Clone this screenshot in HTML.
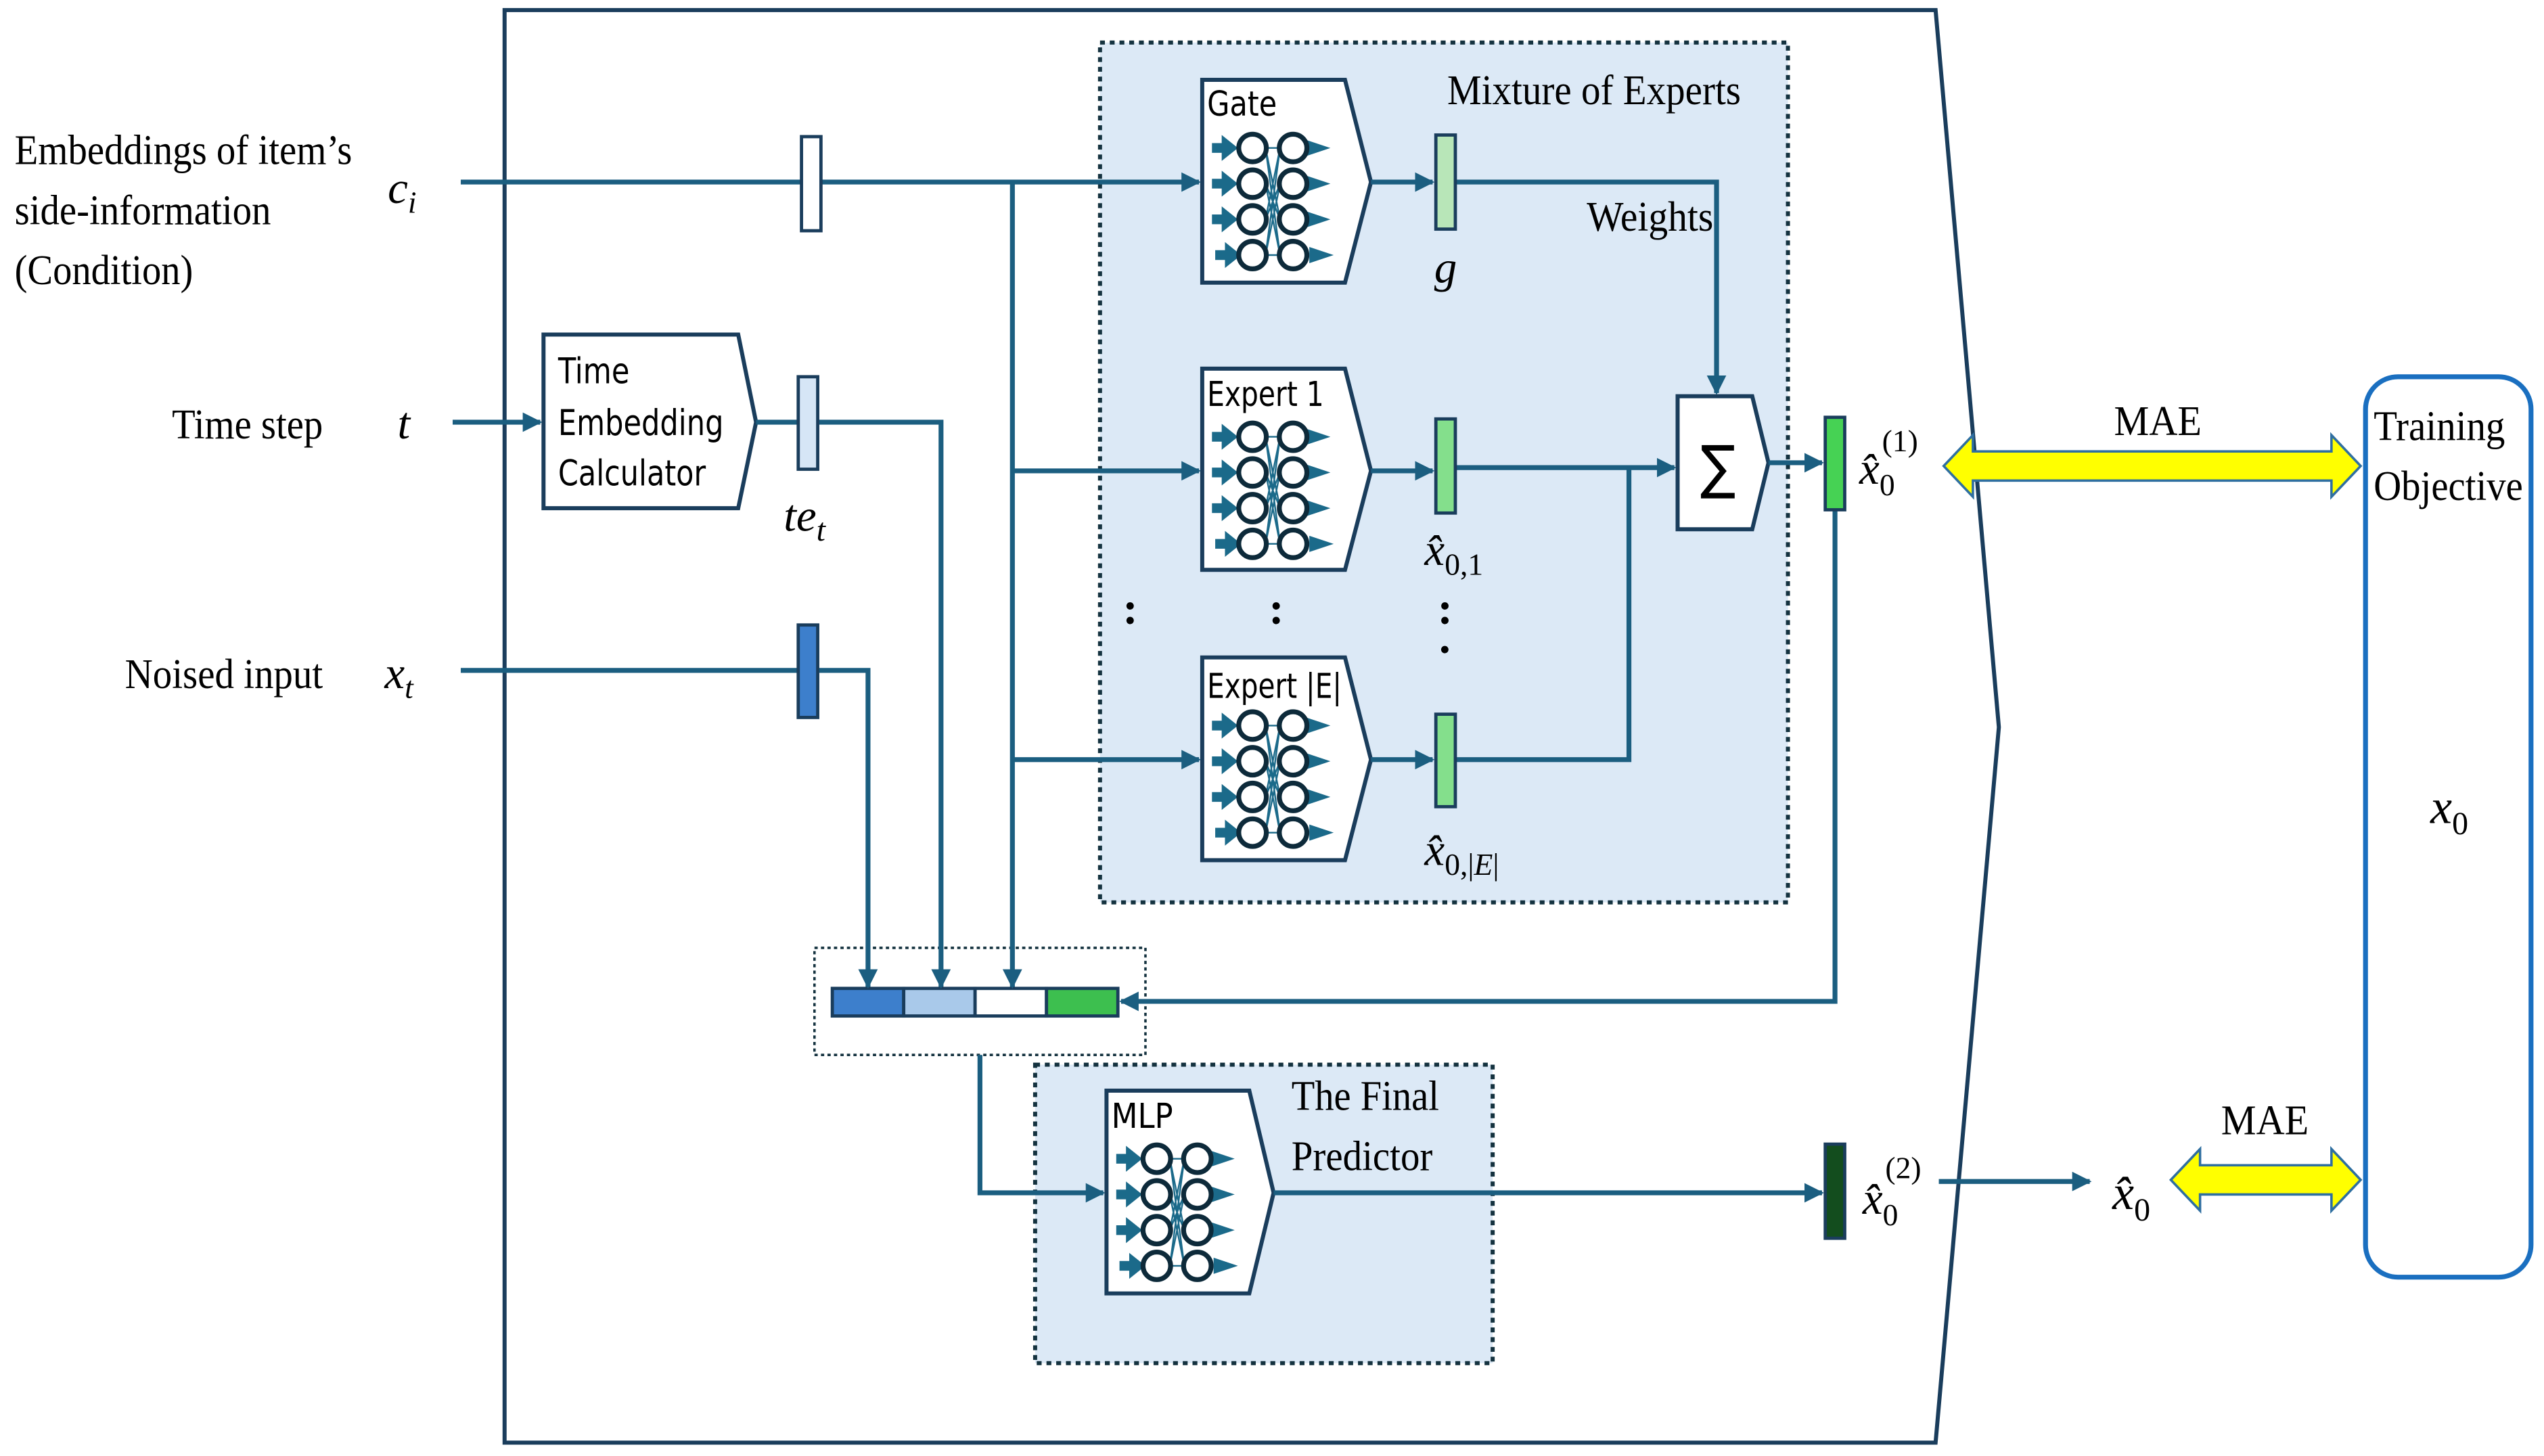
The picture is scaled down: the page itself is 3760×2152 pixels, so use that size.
<!DOCTYPE html>
<html><head><meta charset="utf-8"><style>
html,body{margin:0;padding:0;background:#fff}
svg{display:block}
.s{font-family:"Liberation Serif",serif;fill:#000}
.a{font-family:"DejaVu Sans Condensed","DejaVu Sans","Liberation Sans",sans-serif;fill:#000}
.m{font-family:"Liberation Serif",serif;font-style:italic;fill:#000}
</style></head><body>
<svg width="3760" height="2152" viewBox="0 0 1568 897" xmlns="http://www.w3.org/2000/svg">
<defs>
<marker id="ar" viewBox="0 0 10 10" refX="9" refY="5" markerWidth="4" markerHeight="4" orient="auto-start-reverse" markerUnits="strokeWidth"><path d="M0,0L10,5L0,10z" fill="#1b5e80"/></marker>
<g id="nn">
 <g stroke="#1b6a8a" stroke-width="1" fill="none">
  <path d="M39,42L48,108M39,108L48,42M39,64L48,86M39,86L48,64M39,42L48,86M39,108L48,64M39,64L48,108M39,86L48,42M39,42H48M39,108H48"/>
 </g>
 <g fill="#1b6a8a">
  <path d="M6,39h6v-5l10,8l-10,8v-5h-6z"/><path d="M6,61h6v-5l10,8l-10,8v-5h-6z"/><path d="M6,83h6v-5l10,8l-10,8v-5h-6z"/><path d="M8,105h6v-5l10,8l-10,8v-5h-6z"/>
  <path d="M64,37l15,5l-15,5z"/><path d="M64,59l15,5l-15,5z"/><path d="M64,81l15,5l-15,5z"/><path d="M66,103l15,5l-15,5z"/>
 </g>
 <g fill="none" stroke="#0d2a3a" stroke-width="3">
  <circle cx="31" cy="42" r="8.5"/><circle cx="56" cy="42" r="8.5"/>
  <circle cx="31" cy="64" r="8.5"/><circle cx="56" cy="64" r="8.5"/>
  <circle cx="31" cy="86" r="8.5"/><circle cx="56" cy="86" r="8.5"/>
  <circle cx="31" cy="108" r="8.5"/><circle cx="56" cy="108" r="8.5"/>
 </g>
</g>
</defs>

<!-- outer frame -->
<path d="M311,6H1193L1232,448L1193,889H311Z" fill="none" stroke="#1a3d5c" stroke-width="2.5"/>

<!-- MoE region -->
<rect x="678" y="26" width="424" height="530" fill="#dce9f6" stroke="#14323f" stroke-width="2.5" stroke-dasharray="3,3"/>
<text x="892" y="64" class="s" font-size="26" textLength="181" lengthAdjust="spacingAndGlyphs">Mixture of Experts</text>
<text x="978" y="142" class="s" font-size="26" textLength="78" lengthAdjust="spacingAndGlyphs">Weights</text>

<!-- final predictor region -->
<rect x="638" y="656" width="282" height="184" fill="#dce9f6" stroke="#14323f" stroke-width="2.5" stroke-dasharray="3,3"/>
<text x="796" y="684" class="s" font-size="26" textLength="91" lengthAdjust="spacingAndGlyphs">The Final</text>
<text x="796" y="721" class="s" font-size="26" textLength="87" lengthAdjust="spacingAndGlyphs">Predictor</text>

<!-- concat -->
<rect x="502" y="584" width="204" height="66" fill="#fff" stroke="#14323f" stroke-width="1.5" stroke-dasharray="2,2"/>
<g stroke="#1a3d5c" stroke-width="2">
 <rect x="513" y="609" width="44" height="17" fill="#3d7fcc"/>
 <rect x="557" y="609" width="44" height="17" fill="#a9c9ea"/>
 <rect x="601" y="609" width="44" height="17" fill="#fff"/>
 <rect x="645" y="609" width="44" height="17" fill="#3dbf4f"/>
</g>

<!-- boxes -->
<g fill="#fff" stroke="#1a3d5c" stroke-width="2.5">
 <path d="M741,49H829L845,112L829,174H741Z"/>
 <path d="M741,227H829L845,290L829,351H741Z"/>
 <path d="M741,405H829L845,468L829,530H741Z"/>
 <path d="M682,672H770L785,735L770,797H682Z"/>
 <path d="M335,206H455L466,260L455,313H335Z"/>
 <path d="M1034,244H1080L1090,285L1080,326H1034Z"/>
</g>
<use href="#nn" x="741" y="49"/>
<use href="#nn" x="741" y="227"/>
<use href="#nn" x="741" y="405"/>
<use href="#nn" x="682" y="672"/>
<text x="744" y="71" class="a" font-size="21" textLength="43" lengthAdjust="spacingAndGlyphs">Gate</text>
<text x="744" y="250" class="a" font-size="21" textLength="72" lengthAdjust="spacingAndGlyphs">Expert 1</text>
<text x="744" y="430" class="a" font-size="21" textLength="83" lengthAdjust="spacingAndGlyphs">Expert |E|</text>
<text x="685" y="695" class="a" font-size="21" textLength="38" lengthAdjust="spacingAndGlyphs">MLP</text>
<text x="344" y="236" class="a" font-size="22" textLength="44" lengthAdjust="spacingAndGlyphs">Time</text>
<text x="344" y="268" class="a" font-size="22" textLength="102" lengthAdjust="spacingAndGlyphs">Embedding</text>
<text x="344" y="299" class="a" font-size="22" textLength="91" lengthAdjust="spacingAndGlyphs">Calculator</text>
<text x="1048" y="300" class="a" font-size="36">∑</text>

<!-- connectors -->
<g fill="none" stroke="#1b5e80" stroke-width="3">
 <path d="M284,112H494"/>
 <path d="M506,112H739" marker-end="url(#ar)"/>
 <path d="M624,112V608" marker-end="url(#ar)"/>
 <path d="M624,290H739" marker-end="url(#ar)"/>
 <path d="M624,468H739" marker-end="url(#ar)"/>
 <path d="M845,112H883" marker-end="url(#ar)"/>
 <path d="M897,112H1058V242" marker-end="url(#ar)"/>
 <path d="M845,290H883" marker-end="url(#ar)"/>
 <path d="M897,288H1032" marker-end="url(#ar)"/>
 <path d="M845,468H883" marker-end="url(#ar)"/>
 <path d="M897,468H1004V288"/>
 <path d="M1090,285H1123" marker-end="url(#ar)"/>
 <path d="M1131,314V617H691" marker-end="url(#ar)"/>
 <path d="M279,260H333" marker-end="url(#ar)"/>
 <path d="M466,260H492"/>
 <path d="M504,260H580V608" marker-end="url(#ar)"/>
 <path d="M284,413H492"/>
 <path d="M504,413H535V608" marker-end="url(#ar)"/>
 <path d="M604,650V735H680" marker-end="url(#ar)"/>
 <path d="M785,735H1123" marker-end="url(#ar)"/>
 <path d="M1195,728H1288" marker-end="url(#ar)"/>
</g>

<!-- vectors -->
<g stroke="#1a3d5c" stroke-width="2">
 <rect x="494" y="84" width="12" height="58" fill="#fff"/>
 <rect x="492" y="232" width="12" height="57" fill="#d6e6f6"/>
 <rect x="492" y="385" width="12" height="57" fill="#3d7fcc"/>
 <rect x="885" y="83" width="12" height="58" fill="#b8e6b8"/>
 <rect x="885" y="258" width="12" height="58" fill="#84df8c"/>
 <rect x="885" y="440" width="12" height="57" fill="#84df8c"/>
 <rect x="1125" y="257" width="12" height="57" fill="#46d254"/>
 <rect x="1125" y="705" width="12" height="58" fill="#134d1e"/>
</g>

<!-- dots -->
<g class="s" font-size="28" font-weight="bold"><text x="692" y="384">:</text><text x="782" y="384">:</text><text x="886" y="384">:</text><text x="887" y="402">.</text></g>

<!-- left labels -->
<text x="9" y="101" class="s" font-size="26" textLength="208" lengthAdjust="spacingAndGlyphs">Embeddings of item’s</text>
<text x="9" y="138" class="s" font-size="26" textLength="158" lengthAdjust="spacingAndGlyphs">side-information</text>
<text x="9" y="175" class="s" font-size="26" textLength="110" lengthAdjust="spacingAndGlyphs">(Condition)</text>
<text x="239" y="125" class="m" font-size="28">c<tspan font-size="19" dy="6">i</tspan></text>
<text x="106" y="270" class="s" font-size="26" textLength="93" lengthAdjust="spacingAndGlyphs">Time step</text>
<text x="245" y="270" class="m" font-size="28">t</text>
<text x="77" y="424" class="s" font-size="26" textLength="122" lengthAdjust="spacingAndGlyphs">Noised input</text>
<text x="237" y="424" class="m" font-size="28">x<tspan font-size="19" dy="6">t</tspan></text>
<text x="483" y="327" class="m" font-size="28">te<tspan font-size="20" dy="6">t</tspan></text>
<text x="884" y="174" class="m" font-size="28">g</text>
<text x="878" y="348" class="m" font-size="28">x̂<tspan font-size="19" dy="6" font-style="normal">0,1</tspan></text>
<text x="878" y="533" class="m" font-size="28">x̂<tspan font-size="19" dy="6" font-style="normal">0,|</tspan><tspan font-size="19">E</tspan><tspan font-size="19" font-style="normal">|</tspan></text>
<text x="1146" y="298" class="m" font-size="28">x̂<tspan font-size="19" dy="7" font-style="normal">0</tspan></text>
<text x="1160" y="278" class="s" font-size="19">(1)</text>
<text x="1148" y="748" class="m" font-size="28">x̂<tspan font-size="19" dy="7" font-style="normal">0</tspan></text>
<text x="1162" y="726" class="s" font-size="19">(2)</text>
<text x="1302" y="745" class="m" font-size="30">x̂<tspan font-size="20" dy="7" font-style="normal">0</tspan></text>

<!-- MAE arrows -->
<path d="M1198,287L1216,268V278H1437V268L1455,287L1437,306V296H1216V306Z" fill="#ffff00" stroke="#2f6fa0" stroke-width="1.5"/>
<text x="1303" y="268" class="s" font-size="26" textLength="54" lengthAdjust="spacingAndGlyphs">MAE</text>
<path d="M1338,727L1356,708V718H1437V708L1455,727L1437,746V736H1356V746Z" fill="#ffff00" stroke="#2f6fa0" stroke-width="1.5"/>
<text x="1369" y="699" class="s" font-size="26" textLength="54" lengthAdjust="spacingAndGlyphs">MAE</text>

<!-- training objective -->
<rect x="1458" y="232" width="102" height="555" rx="20" fill="#fff" stroke="#1a6fc0" stroke-width="3"/>
<text x="1463" y="271" class="s" font-size="26" textLength="81" lengthAdjust="spacingAndGlyphs">Training</text>
<text x="1463" y="308" class="s" font-size="26" textLength="92" lengthAdjust="spacingAndGlyphs">Objective</text>
<text x="1498" y="507" class="m" font-size="30">x<tspan font-size="20" dy="7" font-style="normal">0</tspan></text>
</svg>
</body></html>
